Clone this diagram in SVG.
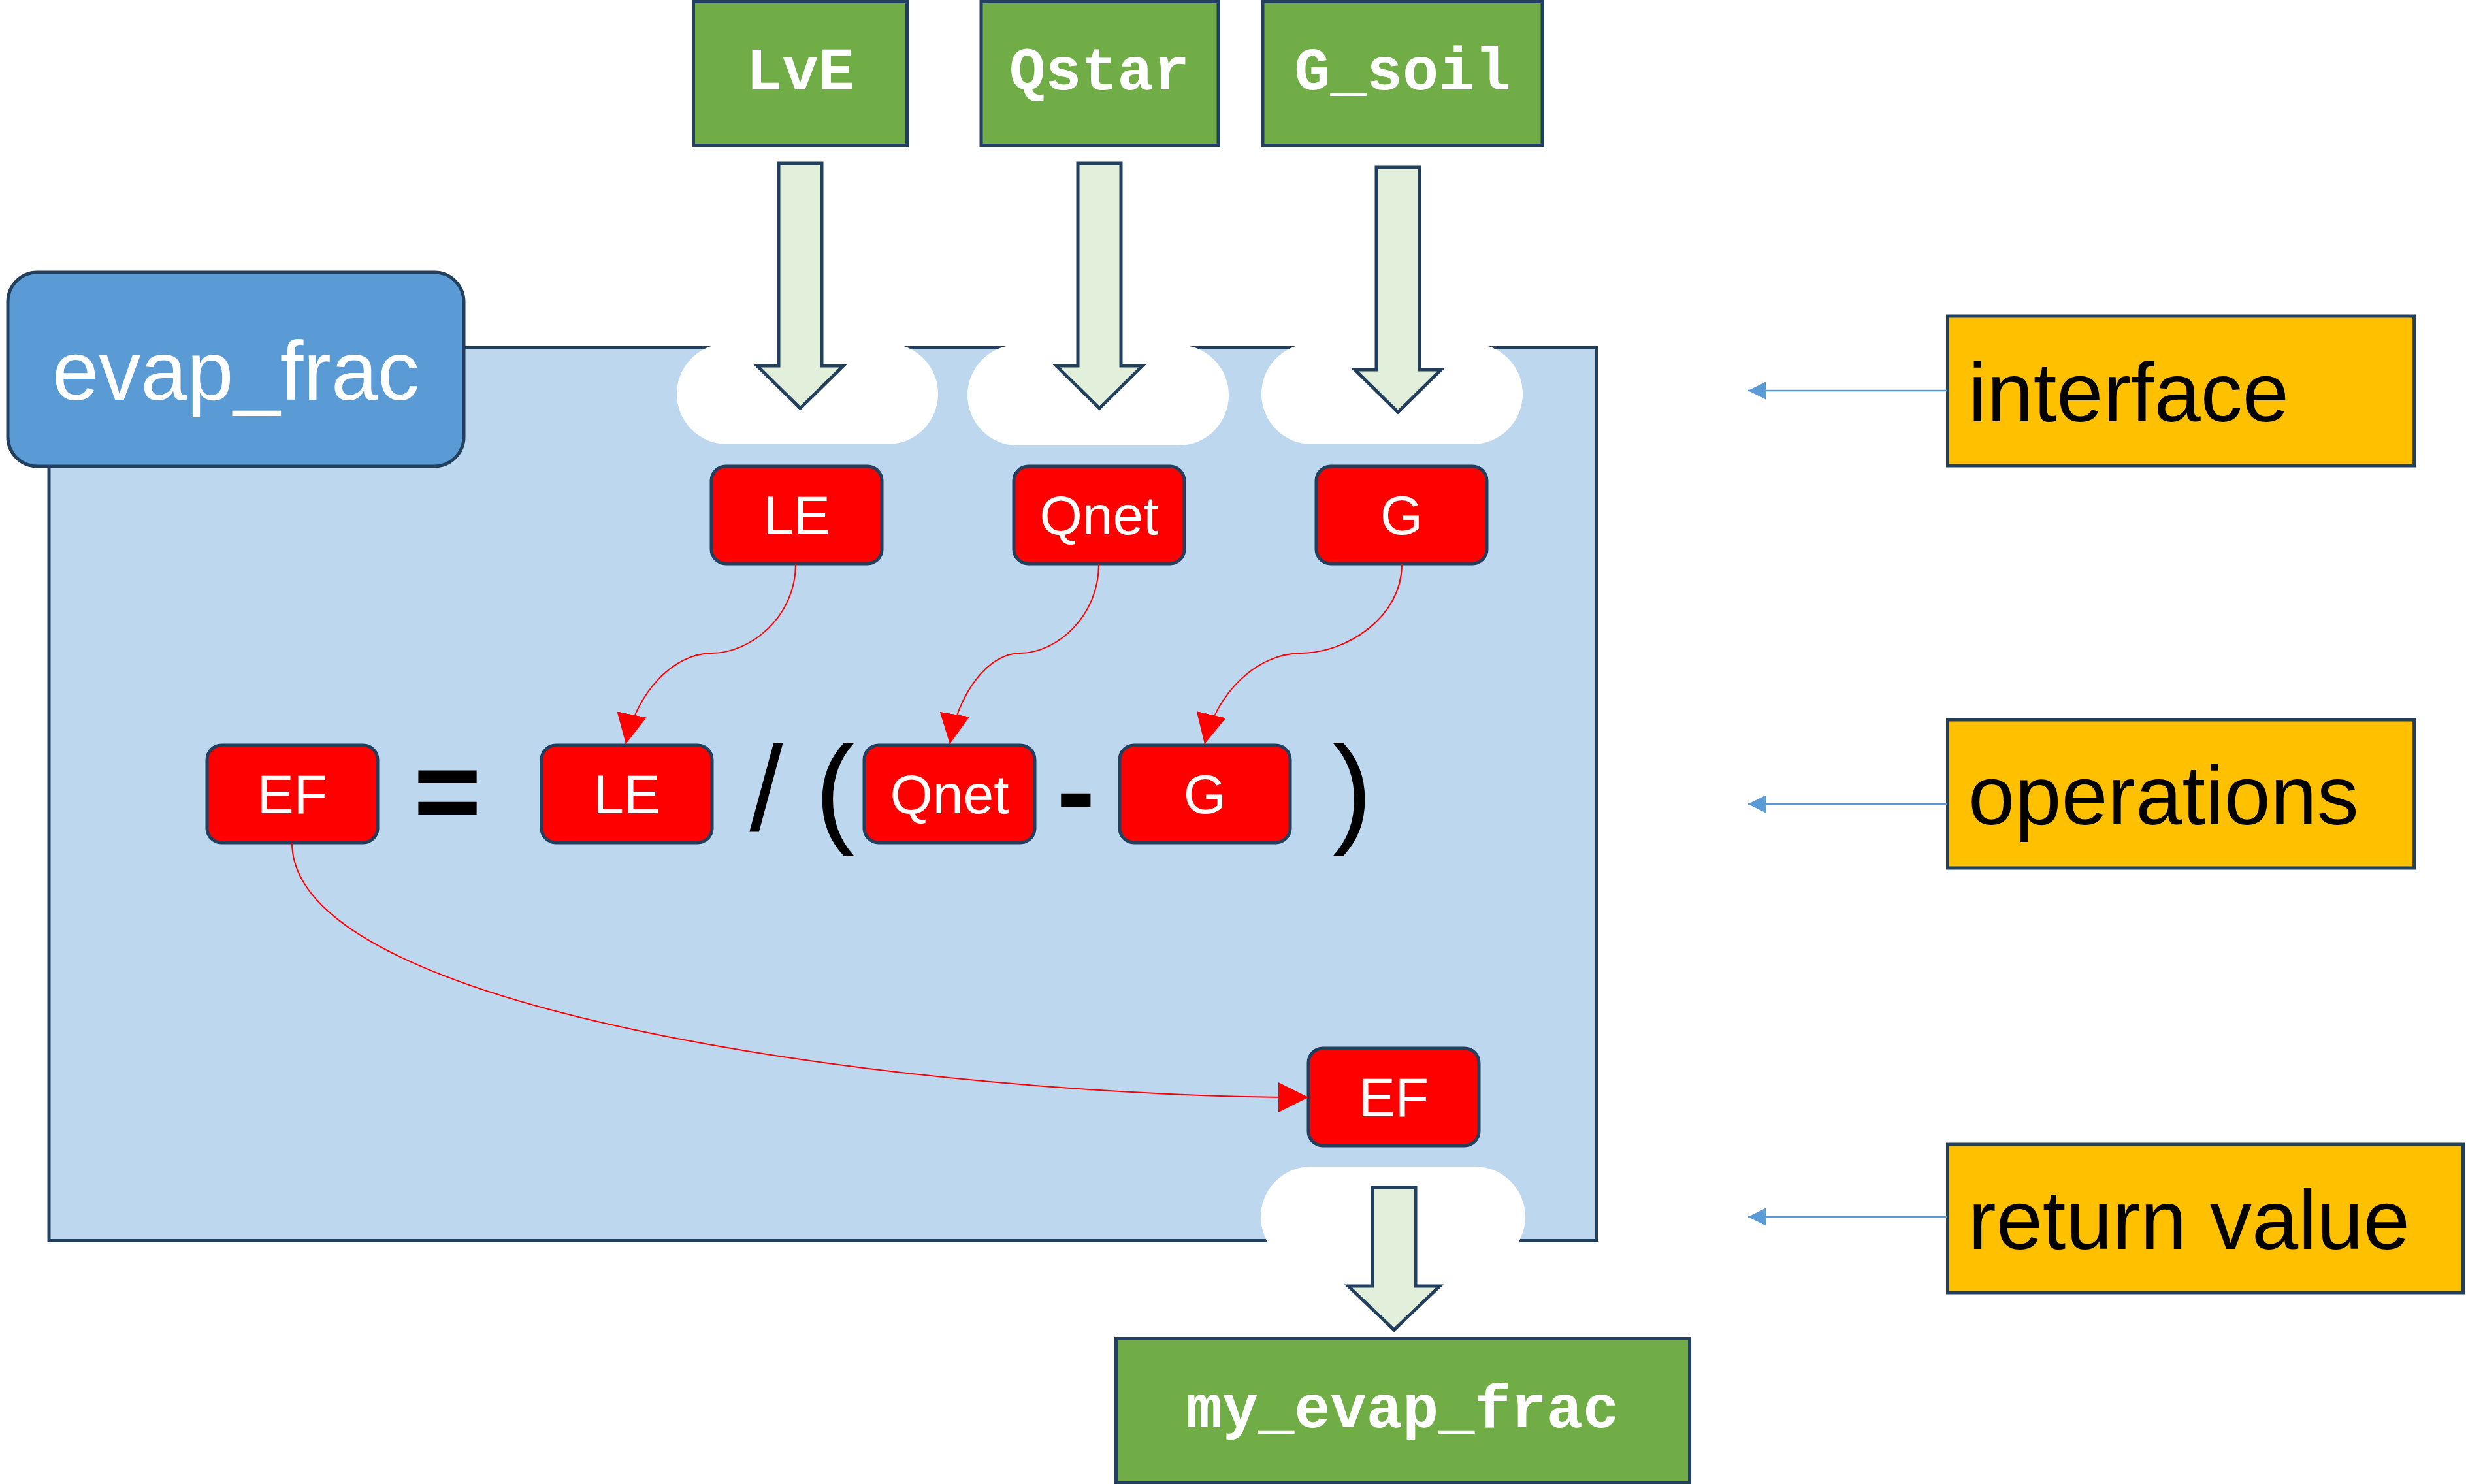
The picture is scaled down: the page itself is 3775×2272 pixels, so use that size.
<svg xmlns="http://www.w3.org/2000/svg" width="3775" height="2272" viewBox="0 0 3775 2272">
<style>
.frame{fill:#bdd7ee;stroke:#22405e;stroke-width:5}
.tab{fill:#ffffff;stroke:none}
.green{fill:#70ad47;stroke:#22405e;stroke-width:5}
.gtxt{font-family:"Courier New","Liberation Mono",monospace;font-weight:bold;font-size:92px;fill:#ffffff;text-anchor:middle}
.barrow{fill:#e2efda;stroke:#22405e;stroke-width:5;stroke-linejoin:miter}
.red{fill:#ff0000;stroke:#22405e;stroke-width:5}
.rtxt{font-family:"Liberation Sans",Arial,sans-serif;font-size:84px;fill:#ffffff;text-anchor:middle}
.op{font-family:"Liberation Sans",Arial,sans-serif;font-size:185px;fill:#000000;text-anchor:middle}
.opb{font-family:"Liberation Sans",Arial,sans-serif;font-size:178px;font-weight:bold;fill:#000000;text-anchor:middle}
.yel{fill:#ffc000;stroke:#22405e;stroke-width:5}
.ytxt{font-family:"Liberation Sans",Arial,sans-serif;font-size:128px;fill:#000000}
.title{fill:#5b9bd5;stroke:#22405e;stroke-width:5}
.ttxt{font-family:"Liberation Sans",Arial,sans-serif;font-size:128px;fill:#ffffff;text-anchor:middle}
.rline{fill:none;stroke:#ff0000;stroke-width:2;marker-end:url(#redhead)}
.bline{fill:none;stroke:#5b9bd5;stroke-width:2.5;marker-end:url(#bluehead)}
</style>
<defs>
<marker id="redhead" viewBox="0 0 10 10" refX="10" refY="5" markerUnits="userSpaceOnUse" markerWidth="46" markerHeight="46" orient="auto">
<path d="M0,0 L10,5 L0,10 z" fill="#ff0000"/>
</marker>
<marker id="bluehead" viewBox="0 0 10 10" refX="10" refY="5" markerUnits="userSpaceOnUse" markerWidth="27" markerHeight="27" orient="auto">
<path d="M0,0 L10,5 L0,10 z" fill="#5b9bd5"/>
</marker>
</defs>

<g id="function-frame">
<rect class="frame" x="75" y="532.5" width="2368.5" height="1367"/>
<rect class="tab" x="1036" y="526" width="400" height="154" rx="77"/>
<rect class="tab" x="1481" y="528" width="400" height="154" rx="77"/>
<rect class="tab" x="1931" y="526" width="400" height="154" rx="77"/>
<rect class="tab" x="1930" y="1786" width="405" height="154" rx="77"/>
</g>

<g id="evap_frac">
<rect class="title" x="12" y="417" width="698" height="297" rx="45"/>
<text class="ttxt" x="361" y="612">evap_frac</text>
</g>

<g id="LvE">
<rect class="green" x="1061.5" y="2.5" width="327" height="220"/>
<text class="gtxt" x="1225" y="137">LvE</text>
</g>
<g id="Qstar">
<rect class="green" x="1502" y="2.5" width="363" height="220"/>
<text class="gtxt" x="1683" y="137">Qstar</text>
</g>
<g id="G_soil">
<rect class="green" x="1933" y="2.5" width="428" height="220"/>
<text class="gtxt" x="2147" y="137">G_soil</text>
</g>
<g id="my_evap_frac">
<rect class="green" x="1708.5" y="2049.5" width="878" height="220"/>
<text class="gtxt" x="2147" y="2185">my_evap_frac</text>
</g>

<g id="block-arrows">
<polygon class="barrow" points="1192,250 1258,250 1258,560 1291,560 1225,625 1159,560 1192,560"/>
<polygon class="barrow" points="1650,250 1716,250 1716,560 1749,560 1683,625 1617,560 1650,560"/>
<polygon class="barrow" points="2107,256 2173,256 2173,566 2206,566 2140,631 2074,566 2107,566"/>
<polygon class="barrow" points="2101,1818 2167,1818 2167,1969 2204,1969 2134,2036 2064,1969 2101,1969"/>
</g>

<g id="LE-in">
<rect class="red" x="1089" y="714" width="261" height="149" rx="22"/>
<text class="rtxt" x="1219.5" y="818">LE</text>
</g>
<g id="Qnet-in">
<rect class="red" x="1552" y="714" width="261" height="149" rx="22"/>
<text class="rtxt" x="1682.5" y="818">Qnet</text>
</g>
<g id="G-in">
<rect class="red" x="2015" y="714" width="261" height="149" rx="22"/>
<text class="rtxt" x="2145.5" y="818">G</text>
</g>

<g id="EF-op">
<rect class="red" x="317" y="1141" width="261" height="149" rx="22"/>
<text class="rtxt" x="447.5" y="1245">EF</text>
</g>
<g id="LE-op">
<rect class="red" x="829" y="1141" width="261" height="149" rx="22"/>
<text class="rtxt" x="959.5" y="1245">LE</text>
</g>
<g id="Qnet-op">
<rect class="red" x="1323" y="1141" width="261" height="149" rx="22"/>
<text class="rtxt" x="1453.5" y="1245">Qnet</text>
</g>
<g id="G-op">
<rect class="red" x="1714" y="1141" width="261" height="149" rx="22"/>
<text class="rtxt" x="1844.5" y="1245">G</text>
</g>
<g id="EF-out">
<rect class="red" x="2003" y="1605" width="261" height="149" rx="22"/>
<text class="rtxt" x="2133.5" y="1709">EF</text>
</g>

<g id="operators">
<text class="opb" x="685" y="1272">=</text>
<text class="op" x="1173" y="1272">/</text>
<text class="op" x="1278" y="1272">(</text>
<text class="opb" x="1647" y="1272">-</text>
<text class="op" x="2070" y="1272">)</text>
</g>

<g id="interface">
<rect class="yel" x="2981.5" y="484" width="714" height="229"/>
<text class="ytxt" x="3013" y="645">interface</text>
</g>
<g id="operations">
<rect class="yel" x="2981.5" y="1102" width="714" height="227"/>
<text class="ytxt" x="3013" y="1262">operations</text>
</g>
<g id="return-value">
<rect class="yel" x="2981.5" y="1752" width="789" height="227"/>
<text class="ytxt" x="3013" y="1912">return value</text>
</g>

<g id="connectors">
<path class="rline" d="M1218,864 C1218,945 1148,1000 1090,1000 C1031,1000 974,1060 958,1139"/>
<path class="rline" d="M1682,864 C1682,945 1616,1000 1562,1000 C1513,1000 1467,1060 1454,1139"/>
<path class="rline" d="M2146,864 C2146,945 2061,1000 1992,1000 C1925,1000 1862,1060 1844,1139"/>
<path class="rline" d="M447,1290 C447,1560 1450,1680 2003,1680"/>
<path class="bline" d="M2981,598 L2676,598"/>
<path class="bline" d="M2981,1231 L2676,1231"/>
<path class="bline" d="M2981,1863 L2676,1863"/>
</g>
</svg>
